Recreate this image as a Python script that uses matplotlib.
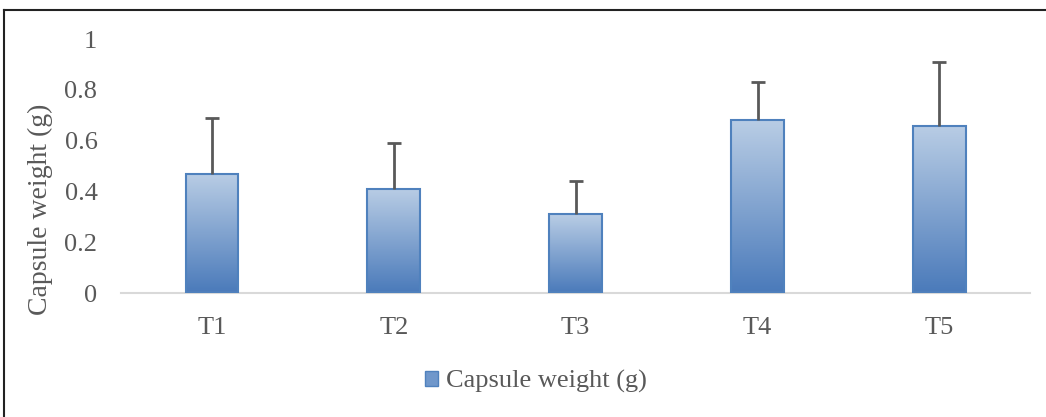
import numpy as np
import matplotlib.pyplot as plt
from matplotlib.colors import LinearSegmentedColormap
from matplotlib.patches import Patch
from matplotlib.lines import Line2D

treatments = ['T1', 'T2', 'T3', 'T4', 'T5']
capsule_weight = [0.47, 0.41, 0.31, 0.68, 0.66]
error_up = [0.22, 0.18, 0.13, 0.15, 0.25]
y_ticks = [0, 0.2, 0.4, 0.6, 0.8, 1]
y_tick_labels = ['0', '0.2', '0.4', '0.6', '0.8', '1']

plt.rcParams['font.family'] = ['Liberation Serif', 'DejaVu Serif']
grey = '#595959'

fig = plt.figure(figsize=(10.46, 4.17), dpi=100)
ax = fig.add_axes([0.1157, 0.297, 0.8693, 0.609])

x = np.arange(len(treatments))
bars = ax.bar(x, capsule_weight, width=0.29, color='none', edgecolor='#4f81bd',
              linewidth=1.5, zorder=3)

# vertical gradient inside each bar (light on top, darker at the base)
cmap = LinearSegmentedColormap.from_list('grad', ['#4a7aba', '#b9cde5'])
grad = np.linspace(0, 1, 256).reshape(-1, 1)
for b in bars:
    bx, by = b.get_x(), b.get_y()
    w, h = b.get_width(), b.get_height()
    im = ax.imshow(grad, cmap=cmap, origin='lower', aspect='auto',
                   extent=[bx, bx + w, by, by + h], zorder=2)
    im.set_clip_path(b)

eb = ax.errorbar(x, capsule_weight, yerr=[np.zeros(len(x)), error_up], fmt='none',
                 ecolor='#595959', elinewidth=2, capsize=5, capthick=2, zorder=4)
eb[1][0].set_visible(False)  # no cap at the bar top

ax.set_xlim(-0.5, len(treatments) - 0.5)
ax.set_ylim(0, 1)
ax.set_xticks(x)
ax.set_xticklabels(treatments)
ax.set_yticks(y_ticks)
ax.set_yticklabels(y_tick_labels)
ax.tick_params(length=0, labelsize=19, colors=grey)
ax.tick_params(axis='y', pad=17)
ax.tick_params(axis='x', pad=17)
for s in ['top', 'right', 'left']:
    ax.spines[s].set_visible(False)
ax.spines['bottom'].set_color('#d9d9d9')
ax.spines['bottom'].set_linewidth(1.5)

ax.set_ylabel('Capsule weight (g)', fontsize=20, color=grey)
ax.yaxis.set_label_coords(-0.075, 0.33)

handle = Patch(facecolor='#6f97cb', edgecolor='#4f81bd', linewidth=1)
fig.legend([handle], ['Capsule weight (g)'], loc='center', bbox_to_anchor=(0.512, 0.085),
           frameon=False, fontsize=19, labelcolor=grey, handlelength=0.5,
           handleheight=0.5, handletextpad=0.3)

# frame lines of the cropped chart border
fig.add_artist(Line2D([0.004, 1], [0.976, 0.976], color='#222222', lw=1.5))
fig.add_artist(Line2D([0.004, 0.004], [0, 0.976], color='#222222', lw=1.5))

fig.savefig('out.png', dpi=100)
